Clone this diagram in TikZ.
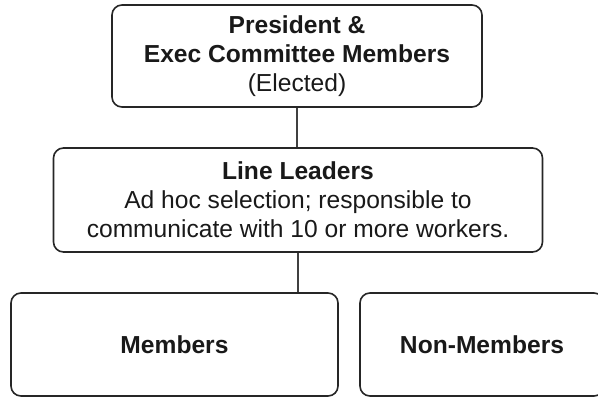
\documentclass[tikz,border=0pt]{standalone}
\usepackage{fontspec}
\setmainfont{Liberation Sans}
\begin{document}
\begin{tikzpicture}[x=1pt,y=-1pt,
  orgbox/.style={draw=black!85, line width=1.6pt, rounded corners=10pt,
    inner sep=0pt, align=center, text=black!90,
    font=\fontsize{24.6}{29}\selectfont},
  link/.style={draw=black!75, line width=1.5pt}]
  \useasboundingbox (0,0) rectangle (598,397);
  \node[orgbox, minimum width=370pt, minimum height=102pt] (exec) at (297,56)
    {\textbf{President \&}\\\textbf{Exec Committee Members}\\(Elected)};
  \node[orgbox, minimum width=489pt, minimum height=104pt] (lead) at (298,200)
    {\textbf{Line Leaders}\\Ad hoc selection; responsible to\\communicate with 10 or more workers.};
  \node[orgbox, minimum width=327pt, minimum height=103pt] (mem) at (174.5,344.5)
    {\textbf{Members}};
  \node[orgbox, minimum width=244pt, minimum height=103pt] (non) at (482,344.5)
    {\textbf{Non-Members}};
  \draw[link] (exec.south) -- (exec.south |- lead.north);
  \draw[link] (lead.south) -- (lead.south |- mem.north);
\end{tikzpicture}
\end{document}
